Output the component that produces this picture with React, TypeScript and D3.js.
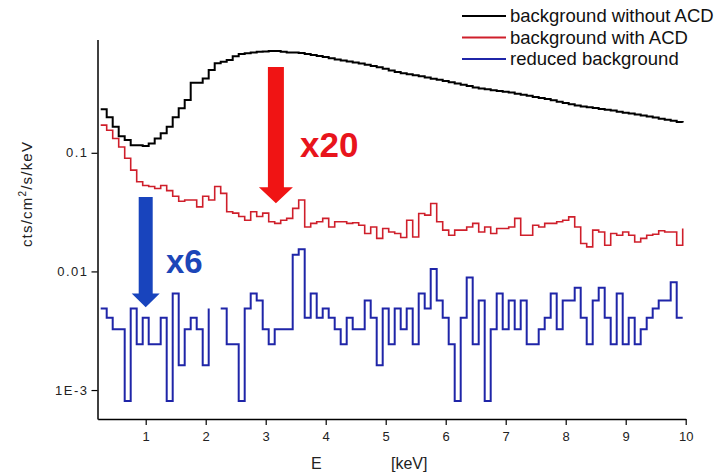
import { useEffect, useRef } from "react"
import * as d3 from "d3"

const W = 718
const H = 473

// histogram bins: first bin starts at 0.25 keV, 0.1 keV wide (Origin step style)
const binStart = 0.25
const binWidth = 0.1

const bgWithoutAcd = [
  0.233, 0.199, 0.166, 0.138, 0.128, 0.116, 0.116, 0.114, 0.120, 0.132,
  0.146, 0.166, 0.199, 0.237, 0.278, 0.390, 0.390, 0.424, 0.499, 0.570,
  0.585, 0.606, 0.653, 0.680, 0.690, 0.700, 0.710, 0.715, 0.720, 0.720,
  0.710, 0.700, 0.700, 0.694, 0.681, 0.668, 0.655, 0.641, 0.626, 0.612,
  0.599, 0.587, 0.576, 0.565, 0.552, 0.539, 0.527, 0.511, 0.494, 0.479,
  0.468, 0.459, 0.450, 0.441, 0.431, 0.421, 0.412, 0.402, 0.393, 0.384,
  0.374, 0.365, 0.356, 0.348, 0.343, 0.337, 0.332, 0.327, 0.322, 0.315,
  0.308, 0.302, 0.295, 0.290, 0.284, 0.277, 0.270, 0.263, 0.256, 0.251,
  0.246, 0.242, 0.238, 0.234, 0.231, 0.227, 0.222, 0.218, 0.214, 0.210,
  0.206, 0.202, 0.198, 0.194, 0.190, 0.186, 0.182, 0.180,
]

const bgWithAcd = [
  0.171, 0.155, 0.132, 0.112, 0.090, 0.0715, 0.057, 0.053, 0.052, 0.050,
  0.053, 0.048, 0.043, 0.039, 0.040, 0.040, 0.035, 0.043, 0.040, 0.052,
  0.0455, 0.0318, 0.031, 0.029, 0.027, 0.0318, 0.029, 0.031, 0.0262, 0.0254,
  0.027, 0.028, 0.034, 0.040, 0.0237, 0.0254, 0.0262, 0.028, 0.0237, 0.0262,
  0.0262, 0.0254, 0.0257, 0.0245, 0.0209, 0.0237, 0.019, 0.023, 0.0215, 0.0209,
  0.0193, 0.027, 0.0195, 0.0308, 0.0298, 0.0374, 0.0262, 0.0223, 0.0202, 0.0223,
  0.0223, 0.0237, 0.0254, 0.0215, 0.0237, 0.0209, 0.023, 0.023, 0.0237, 0.028,
  0.0202, 0.0202, 0.0245, 0.0237, 0.0254, 0.0254, 0.0262, 0.027, 0.0288, 0.0237,
  0.0172, 0.0161, 0.0223, 0.0215, 0.0166, 0.0209, 0.0202, 0.0215, 0.0202, 0.0177,
  0.019, 0.0202, 0.0206, 0.022, 0.0215, 0.0215, 0.0166, 0.023,
]

// null = empty bin (no counts), gap on log scale
const bgReduced = [
  0.00487, 0.00406, 0.00325, 0.00325, 0.00081, 0.00487, 0.00243, 0.00406, 0.00243, 0.00243,
  0.00406, 0.00081, 0.0065, 0.00162, 0.00325, 0.00406, 0.00325, 0.00162, 0.00487, null,
  0.00487, 0.00243, 0.00243, 0.00081, 0.00487, 0.0065, 0.00568, 0.00325, 0.00243, 0.00325,
  0.00325, 0.00325, 0.0138, 0.0154, 0.00406, 0.0065, 0.00406, 0.00487, 0.00406, 0.00325,
  0.00243, 0.00406, 0.00325, 0.00325, 0.00568, 0.00406, 0.00162, 0.00487, 0.00243, 0.00487,
  0.00325, 0.00487, 0.00243, 0.0065, 0.00487, 0.0105, 0.00568, 0.00406, 0.00243, 0.00081,
  0.00406, 0.0089, 0.00243, 0.00568, 0.00081, 0.00325, 0.0065, 0.00325, 0.00568, 0.00325,
  0.00568, 0.00243, 0.00243, 0.00325, 0.00406, 0.0065, 0.00325, 0.00568, 0.00568, 0.0073,
  0.00406, 0.00243, 0.00568, 0.0073, 0.00406, 0.00243, 0.0065, 0.00243, 0.00406, 0.00243,
  0.00325, 0.00406, 0.00487, 0.00568, 0.00568, 0.0081, 0.00406, 0.00406,
]

const seriesNames = ["background without ACD", "background with ACD", "reduced background"]
const seriesColors = ["#000000", "#cf1f2b", "#1f25a8"]
const seriesWidths = [2, 1.6, 2]

const xTicks = [1, 2, 3, 4, 5, 6, 7, 8, 9, 10]
const yTicks = [0.1, 0.01, 0.001]
const yTickLabels = ["0.1", "0.01", "1E-3"]

// arrows: [energy, top value, head base value, tip value]
const arrowRed = [3.17, 0.53, 0.0513, 0.0376]
const arrowBlue = [1.0, 0.0423, 0.0065, 0.00498]

const FONT = "'Liberation Sans', Arial, sans-serif"

export default function App() {
  const svgRef = useRef(null)

  useEffect(() => {
    const svg = d3.select(svgRef.current)
    svg.selectAll("*").remove()

    const x = d3.scaleLinear().domain([0.2, 10]).range([97.7, 685.7])
    const y = d3.scaleLog().domain([0.00057, 0.9]).range([419, 39.6])

    // axes
    const xMinor = d3.range(0.2, 10.01, 0.2).filter(v => Math.abs(v - Math.round(v)) > 0.01)
    const yMinor = []
    ;[0.0001, 0.001, 0.01, 0.1].forEach(dec => {
      for (let m = 2; m <= 9; m++) {
        const v = dec * m
        if (v >= 0.00057 && v <= 0.9001) yMinor.push(v)
      }
    })

    const gx = svg.append("g").attr("transform", "translate(0,419)")
    gx.call(d3.axisBottom(x).tickValues(xMinor).tickSize(3).tickSizeOuter(0).tickFormat(() => ""))
    gx.call(d3.axisBottom(x).tickValues(xTicks).tickSize(6).tickSizeOuter(0).tickFormat(d3.format("d")))
    gx.selectAll("path").attr("stroke-width", 1.5)
    gx.selectAll("line").attr("stroke-width", 1.2)
    gx.selectAll("text")
      .attr("font-family", FONT).attr("font-size", 13).attr("fill", "#222")
      .attr("y", 0).attr("dy", 0).attr("transform", "translate(0,22)")

    const gy = svg.append("g").attr("transform", "translate(97.5,0)")
    gy.call(d3.axisLeft(y).tickValues(yMinor).tickSize(3).tickSizeOuter(0).tickFormat(() => ""))
    gy.call(d3.axisLeft(y).tickValues(yTicks).tickSize(6).tickSizeOuter(0).tickFormat((d, i) => yTickLabels[i]))
    gy.selectAll("path").attr("stroke-width", 1.5)
    gy.selectAll("line").attr("stroke-width", 1.2)
    gy.selectAll("text")
      .attr("font-family", FONT).attr("font-size", 13).attr("fill", "#222")
      .attr("letter-spacing", 1.5).attr("x", -9)

    // step histograms
    const allSeries = [bgWithoutAcd, bgWithAcd, bgReduced]
    const line = d3.line()
      .defined(d => d[1] != null)
      .x(d => x(d[0]))
      .y(d => y(d[1]))
      .curve(d3.curveStepAfter)

    // draw reduced first, black on top
    ;[2, 1, 0].forEach(si => {
      const pts = allSeries[si].map((v, i) => [binStart + binWidth * i, v])
      svg.append("path")
        .attr("d", line(pts))
        .attr("fill", "none")
        .attr("stroke", seriesColors[si])
        .attr("stroke-width", seriesWidths[si])
        .attr("stroke-linejoin", "miter")
    })

    // arrows
    const drawArrow = (a, shaftHalf, headHalf, color) => {
      const cx = x(a[0])
      const yTop = y(a[1]), yBase = y(a[2]), yTip = y(a[3])
      const p = [
        [cx - shaftHalf, yTop], [cx + shaftHalf, yTop], [cx + shaftHalf, yBase],
        [cx + headHalf, yBase], [cx, yTip], [cx - headHalf, yBase], [cx - shaftHalf, yBase],
      ]
      svg.append("polygon").attr("points", p.map(q => q.join(",")).join(" ")).attr("fill", color)
    }
    drawArrow(arrowRed, 8, 17, "#f01414")
    drawArrow(arrowBlue, 7, 14, "#1844bd")

    svg.append("text").attr("x", 300).attr("y", 157).text("x20")
      .attr("font-family", FONT).attr("font-weight", "bold").attr("font-size", 35).attr("fill", "#e8141c")
    svg.append("text").attr("x", 166).attr("y", 273).text("x6")
      .attr("font-family", FONT).attr("font-weight", "bold").attr("font-size", 33).attr("fill", "#1c46b8")

    // axis titles
    svg.append("text")
      .attr("transform", "translate(32,194) rotate(-90)")
      .attr("text-anchor", "middle")
      .attr("font-family", FONT).attr("font-size", 15).attr("letter-spacing", 1.2).attr("fill", "#222")
      .html("cts/cm<tspan dy='-6' font-size='10'>2</tspan><tspan dy='6'>/s/keV</tspan>")
    svg.append("text").attr("x", 311).attr("y", 469).text("E")
      .attr("font-family", FONT).attr("font-size", 16).attr("fill", "#222")
    svg.append("text").attr("x", 391).attr("y", 469).text("[keV]")
      .attr("font-family", FONT).attr("font-size", 16).attr("fill", "#222")

    // legend
    const lg = svg.append("g")
    seriesNames.forEach((name, i) => {
      const ly = 16 + i * 21.5
      lg.append("line").attr("x1", 462).attr("x2", 506).attr("y1", ly).attr("y2", ly)
        .attr("stroke", seriesColors[i]).attr("stroke-width", 2)
      lg.append("text").attr("x", 510).attr("y", ly).attr("dy", "0.35em").text(name)
        .attr("font-family", FONT).attr("font-size", 18.5).attr("fill", "#111")
    })
  }, [])

  return (
    <svg
      ref={svgRef}
      width={W}
      height={H}
      style={{ position: "absolute", left: 0, top: 0, background: "#fff" }}
    />
  )
}
